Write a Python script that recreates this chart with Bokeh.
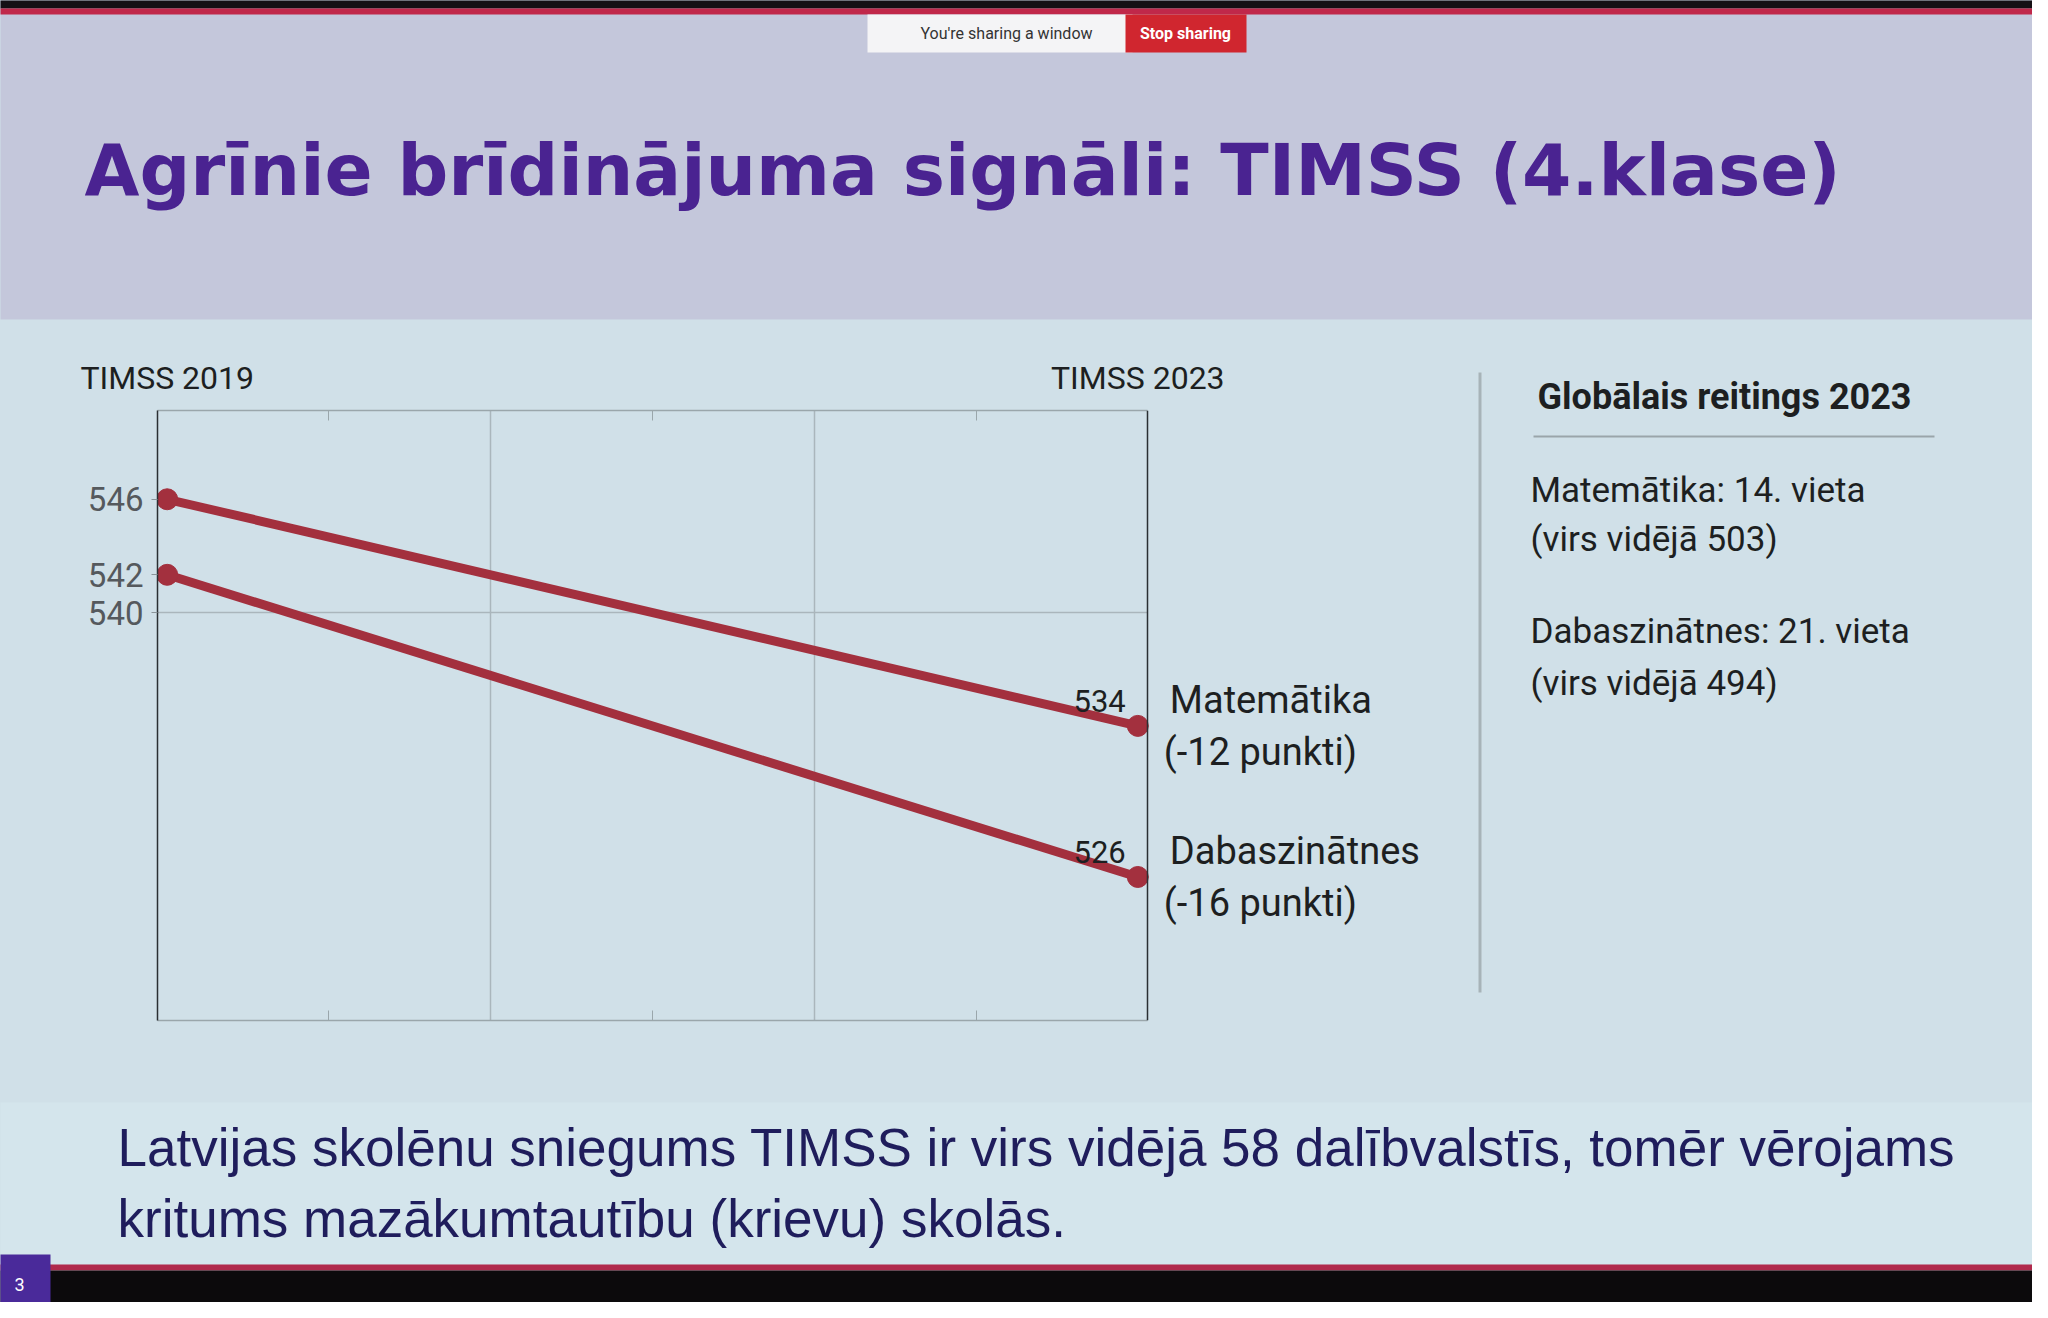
from bokeh.plotting import figure
from bokeh.layouts import column, row
from bokeh.models import FixedTicker, LinearAxis, Label, Range1d, Span
from bokeh.core.properties import value
from bokeh.embed import file_html
from bokeh.resources import INLINE

# ---------------- data ----------------
years = [2019, 2023]
year_labels = ["TIMSS 2019", "TIMSS 2023"]
subjects = ["Matemātika", "Dabaszinātnes"]
changes = ["(-12 punkti)", "(-16 punkti)"]
math_scores = [546, 534]
science_scores = [542, 526]
series_scores = [math_scores, science_scores]
y_ticks = [540, 542, 546]
y_grid = [540]
title_text = "Agrīnie brīdinājuma signāli: TIMSS (4.klase)"
ranking_title = "Globālais reitings 2023"
ranking_lines = ["Matemātika: 14. vieta", "(virs vidējā 503)",
                 "Dabaszinātnes: 21. vieta", "(virs vidējā 494)"]
footer_lines = ["Latvijas skolēnu sniegums TIMSS ir virs vidējā 58 dalībvalstīs, tomēr vērojams",
                "kritums mazākumtautību (krievu) skolās."]
slide_number = "3"

# ---------------- colours ----------------
RED = "#a3303e"
PANEL = "#d0e0e8"
TOP = "#c4c7db"
FOOT = "#d4e5ec"
PURPLE = "#4a2391"
NAVY = "#1f1d5c"
INK = "#1d1f21"

# ---------------- page layout (page px) ----------------
HEAD_H, MID_H, FOOT_H = 340, 710, 252
CHART_W, SIDE_W = 1460, 572
TOTAL_W = CHART_W + SIDE_W


def canvas(w, h, x0, y0, bg):
    """A figure whose data coordinates equal page pixel coordinates."""
    f = figure(width=w, height=h, x_range=Range1d(x0, x0 + w), y_range=Range1d(y0 + h, y0),
               min_border=0, toolbar_location=None, output_backend="svg",
               x_axis_location=None, y_axis_location=None, frame_align=False,
               background_fill_color=bg, border_fill_color=bg, outline_line_color=None)
    f.grid.visible = False
    return f


def rect(f, x0, y0, x1, y1, color):
    f.quad(left=[x0], right=[x1], top=[y0], bottom=[y1], fill_color=color, line_color=None)


def text(f, x, y, t, size, color=INK, font="Roboto", style="normal", align="left"):
    f.text(x=[x], y=[y], text=[t], text_font=value(font), text_font_size=f"{size}px",
           text_color=color, text_font_style=style, text_align=align, text_baseline="middle")


# ---- header ----
head = canvas(TOTAL_W, HEAD_H, 8, 8, PANEL)
rect(head, 0, 0, 2048, 327, TOP)
rect(head, 0, 0, 2048, 16, "#141014")
rect(head, 0, 16, 2048, 22, "#c0284a")
rect(head, 875, 22, 1140, 60, "#f4f4f6")
rect(head, 1133, 22, 1254, 60, "#d0262f")
text(head, 928, 41, "You're sharing a window", 16, "#333333")
text(head, 1193, 41, "Stop sharing", 16, "#ffffff", style="bold", align="center")
text(head, 92, 178, title_text, 71, PURPLE, "DejaVu Sans", "bold")

# ---- chart ----
FL_PAGE, FT_PAGE, FB_PAGE = 165, 418, 1028
EDGE_PAGE = 1155                      # page x of the right frame edge
X0, XE = 2018.96, 2023.04
Y0, Y1 = 518.4, 550.7
MID_TOP = 8 + HEAD_H
frame_right_page = 8 + CHART_W - 10
X_FAR = X0 + (frame_right_page - FL_PAGE) * (XE - X0) / (EDGE_PAGE - FL_PAGE)

p = figure(width=CHART_W, height=MID_H, x_range=Range1d(X0, X_FAR), y_range=Range1d(Y0, Y1),
           output_backend="svg", toolbar_location=None, frame_align=False,
           x_axis_location="above", y_axis_location="left",
           min_border_left=FL_PAGE - 8, min_border_right=10,
           min_border_top=FT_PAGE - MID_TOP, min_border_bottom=MID_TOP + MID_H - FB_PAGE,
           background_fill_color=PANEL, border_fill_color=PANEL, outline_line_color=None)

minor_pos = [2019 + 2/3, 2021, 2023 - 2/3]
xa = p.xaxis[0]
xa.ticker = FixedTicker(ticks=years, minor_ticks=minor_pos)
xa.bounds = (X0, XE)
xa.major_label_overrides = {y: l for y, l in zip(years, year_labels)}
xa.major_tick_line_color = None
xa.minor_tick_in = 10
xa.minor_tick_out = 0
xa.minor_tick_line_color = "#9aa6ab"
xa.axis_line_color = "#9aa6ab"
xa.axis_line_width = 1.5
xa.major_label_text_font = "Roboto"
xa.major_label_text_font_size = "32px"
xa.major_label_text_color = INK
xa.major_label_standoff = 8

ya = p.yaxis[0]
ya.ticker = FixedTicker(ticks=y_ticks)
ya.major_tick_in = 0
ya.major_tick_out = 6
ya.major_tick_line_color = "#8a9499"
ya.minor_tick_line_color = None
ya.axis_line_color = "#2a2f33"
ya.axis_line_width = 1.5
ya.major_label_text_font = "Roboto"
ya.major_label_text_font_size = "33px"
ya.major_label_text_color = "#55595d"
ya.major_label_standoff = 8

below = LinearAxis(ticker=FixedTicker(ticks=[], minor_ticks=minor_pos), bounds=(X0, XE),
                   minor_tick_in=10, minor_tick_out=0, minor_tick_line_color="#9aa6ab",
                   major_tick_line_color=None, axis_line_color="#9aa6ab", axis_line_width=1.5,
                   major_label_text_color=None)
p.add_layout(below, "below")

p.xgrid.ticker = FixedTicker(ticks=[2019 + 4/3, 2019 + 8/3])
p.xgrid.grid_line_color = "#aab6bc"
p.xgrid.grid_line_width = 1.5
p.ygrid.visible = False
for gy in y_grid:
    p.segment(x0=[X0], x1=[XE], y0=[gy], y1=[gy], line_color="#aab6bc", line_width=1.5)
p.add_layout(Span(location=XE, dimension="height", line_color="#2a2f33", line_width=1.5))

for scores in series_scores:
    p.line(years, scores, line_width=9, color=RED)
    p.scatter(years, scores, size=21, color=RED)

for name, chg, scores in zip(subjects, changes, series_scores):
    p.add_layout(Label(x=years[-1], y=scores[-1], text=str(scores[-1]), x_offset=-12, y_offset=14,
                       text_align="right", text_baseline="bottom", text_font="Roboto",
                       text_font_size="31px", text_color=INK))
    p.add_layout(Label(x=years[-1], y=scores[-1], text=name, x_offset=32, y_offset=26,
                       text_align="left", text_baseline="middle", text_font="Roboto",
                       text_font_size="38px", text_color=INK))
    p.add_layout(Label(x=years[-1], y=scores[-1], text=chg, x_offset=26, y_offset=-26,
                       text_align="left", text_baseline="middle", text_font="Roboto",
                       text_font_size="38px", text_color=INK))

# ---- side panel ----
side = canvas(SIDE_W, MID_H, 8 + CHART_W, MID_TOP, PANEL)
rect(side, 1486, 380, 1489, 1000, "#a7b3b8")
rect(side, 1541, 443, 1942, 445, "#9aa5aa")
text(side, 1545, 404, ranking_title, 36, INK, style="bold")
for t, yy in zip(ranking_lines, [498, 547, 639, 691]):
    text(side, 1538, yy, t, 35, INK)

# ---- footer ----
FOOT_TOP = MID_TOP + MID_H
foot = canvas(TOTAL_W, FOOT_H, 8, FOOT_TOP, PANEL)
rect(foot, 0, 1110, 2048, 1272, FOOT)
rect(foot, 0, 1272, 2048, 1278, "#b02a4c")
rect(foot, 0, 1278, 2048, 1318, "#0c0a0c")
rect(foot, 0, 1262, 58, 1318, "#4a2a9a")
for t, yy in zip(footer_lines, [1155, 1226]):
    text(foot, 125, yy, t, 53, NAVY, "Liberation Sans")
text(foot, 22, 1292, slide_number, 18, "#ffffff")

mid = row(p, side, spacing=0, styles={"background-color": PANEL})
page = column(head, mid, foot, spacing=0, styles={"background-color": PANEL})
open("out.html", "w").write(file_html(page, INLINE))
